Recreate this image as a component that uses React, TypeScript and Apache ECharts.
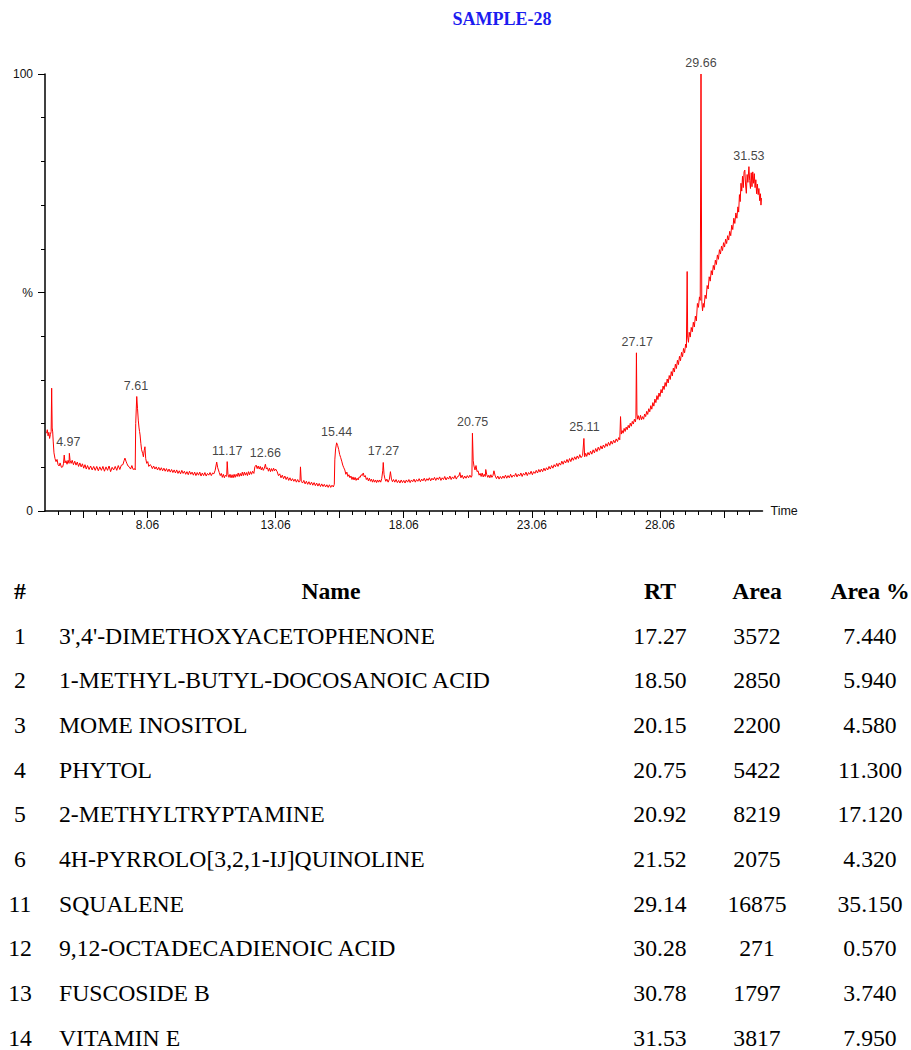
import React, { useEffect, useRef } from 'react';
import * as echarts from 'echarts';

// ---- Chromatogram (time in min, relative intensity in %) ----
const chromatogram: [number, number][] = [
  [4.12, 17.8], [4.15, 18.6], [4.18, 17.2], [4.21, 18.0], [4.24, 16.6], [4.27, 17.5], [4.3, 18.2], [4.32, 28.1],
  [4.34, 19.0], [4.36, 18.1], [4.38, 16.0], [4.41, 13.3], [4.45, 12.0], [4.49, 11.3], [4.53, 11.8], [4.57, 10.6],
  [4.61, 10.3], [4.65, 11.0], [4.7, 10.0], [4.75, 10.1], [4.78, 10.8], [4.81, 12.8], [4.84, 11.0], [4.88, 11.5],
  [4.92, 10.7], [4.96, 11.6], [5.0, 10.9], [5.01, 13.2], [5.04, 11.5], [5.08, 10.9], [5.12, 11.6], [5.17, 10.6],
  [5.22, 11.4], [5.27, 10.5], [5.32, 11.2], [5.37, 10.2], [5.42, 11.0], [5.47, 10.1], [5.52, 10.8], [5.57, 9.8],
  [5.62, 10.6], [5.67, 9.6], [5.72, 10.4], [5.78, 9.5], [5.84, 10.3], [5.9, 9.4], [5.96, 10.2], [6.02, 9.3],
  [6.08, 10.2], [6.14, 9.2], [6.2, 10.1], [6.26, 9.3], [6.32, 10.2], [6.38, 9.1], [6.44, 10.1], [6.5, 9.3],
  [6.56, 10.3], [6.62, 9.0], [6.68, 10.0], [6.74, 9.4], [6.8, 10.2], [6.86, 9.3], [6.92, 10.4], [6.98, 9.5],
  [7.04, 10.5], [7.1, 10.6], [7.15, 11.6], [7.18, 12.1], [7.22, 11.4], [7.26, 10.8], [7.3, 10.3], [7.35, 10.1],
  [7.4, 9.6], [7.45, 10.4], [7.5, 9.5], [7.55, 9.7], [7.58, 9.4], [7.6, 20.0], [7.64, 26.2], [7.67, 23.5],
  [7.7, 20.8], [7.73, 19.0], [7.75, 18.2], [7.77, 17.4], [7.8, 15.5], [7.83, 14.0], [7.87, 13.2], [7.9, 12.4],
  [7.93, 13.8], [7.96, 14.7], [7.99, 12.0], [8.03, 10.9], [8.07, 11.3], [8.11, 10.2], [8.16, 10.6],
  [8.2, 10.4], [8.25, 9.7], [8.3, 10.3], [8.35, 9.6], [8.4, 10.1], [8.45, 9.4], [8.5, 10.0], [8.55, 9.3],
  [8.6, 9.9], [8.65, 9.2], [8.7, 9.8], [8.75, 9.1], [8.8, 9.7], [8.85, 9.0], [8.9, 9.6], [8.95, 8.9],
  [9.0, 9.5], [9.05, 8.8], [9.1, 9.4], [9.15, 8.7], [9.2, 9.4], [9.25, 8.6], [9.3, 9.2], [9.35, 8.5],
  [9.4, 9.3], [9.45, 8.6], [9.5, 9.1], [9.55, 8.4], [9.6, 9.0], [9.65, 8.3], [9.7, 9.1], [9.75, 8.4],
  [9.8, 8.9], [9.85, 8.2], [9.9, 8.9], [9.95, 8.1], [10.0, 8.8], [10.05, 8.2], [10.1, 8.9], [10.15, 8.0],
  [10.2, 8.7], [10.25, 8.1], [10.3, 8.8], [10.35, 8.0], [10.4, 8.6], [10.45, 8.2], [10.5, 8.8], [10.55, 8.1],
  [10.6, 8.7], [10.65, 8.5], [10.7, 9.3], [10.76, 11.2], [10.8, 9.9], [10.86, 8.8], [10.9, 8.1], [10.94, 8.6],
  [10.98, 7.7], [11.02, 8.4], [11.06, 7.6], [11.1, 8.2], [11.15, 7.9], [11.17, 11.3], [11.2, 8.4], [11.24, 7.7],
  [11.28, 8.4], [11.32, 7.6], [11.36, 8.3], [11.4, 7.6], [11.44, 8.4], [11.48, 7.7], [11.52, 8.4], [11.56, 7.9],
  [11.6, 8.7], [11.64, 7.9], [11.68, 8.6], [11.72, 8.0], [11.76, 8.9], [11.8, 8.1], [11.84, 8.9], [11.88, 8.2],
  [11.92, 8.8], [11.96, 8.1], [12.0, 9.0], [12.04, 8.3], [12.08, 9.0], [12.12, 8.4], [12.16, 9.1], [12.21, 8.6],
  [12.25, 10.1], [12.3, 10.5], [12.34, 9.7], [12.38, 10.3], [12.42, 9.6], [12.46, 10.2], [12.5, 9.4], [12.54, 10.0],
  [12.58, 9.3], [12.62, 9.8], [12.66, 10.7], [12.7, 9.6], [12.74, 9.9], [12.78, 9.1], [12.82, 9.8], [12.86, 9.0],
  [12.9, 9.7], [12.94, 9.1], [12.98, 9.8], [13.02, 9.2], [13.06, 9.6], [13.12, 9.0], [13.17, 8.1], [13.22, 8.5],
  [13.27, 7.6], [13.32, 8.2], [13.37, 7.4], [13.42, 8.0], [13.47, 7.2], [13.52, 7.8], [13.57, 7.0], [13.62, 7.6],
  [13.67, 6.9], [13.72, 7.4], [13.77, 6.8], [13.82, 7.3], [13.87, 6.6], [13.92, 7.2], [13.97, 6.6], [14.01, 7.0],
  [14.03, 10.1], [14.06, 6.8], [14.11, 6.4], [14.16, 7.0], [14.21, 6.2], [14.26, 6.8], [14.31, 6.1], [14.36, 6.7],
  [14.41, 6.0], [14.46, 6.6], [14.51, 5.9], [14.56, 6.5], [14.61, 5.8], [14.66, 6.4], [14.71, 5.7], [14.76, 6.3],
  [14.81, 5.6], [14.86, 6.2], [14.91, 5.6], [14.96, 6.1], [15.01, 5.5], [15.06, 6.0], [15.11, 5.4], [15.16, 6.0],
  [15.21, 5.4], [15.26, 5.9], [15.31, 5.5], [15.35, 6.1], [15.37, 11.7], [15.4, 14.2], [15.44, 15.6], [15.48, 15.0],
  [15.52, 14.1], [15.56, 12.9], [15.6, 12.2], [15.64, 11.4], [15.68, 10.5], [15.72, 9.9], [15.76, 9.4], [15.8, 8.4],
  [15.84, 8.9], [15.88, 7.9], [15.92, 8.3], [15.96, 7.6], [16.0, 8.0], [16.04, 7.2], [16.08, 7.8], [16.12, 7.1],
  [16.16, 7.7], [16.2, 7.0], [16.24, 7.5], [16.28, 7.1], [16.32, 7.8], [16.36, 7.7], [16.4, 8.3], [16.44, 8.1],
  [16.48, 8.7], [16.52, 7.8], [16.56, 8.1], [16.6, 7.2], [16.64, 7.6], [16.68, 6.9], [16.72, 7.5], [16.76, 6.8],
  [16.8, 7.3], [16.84, 6.6], [16.88, 7.2], [16.92, 6.6], [16.96, 7.1], [17.0, 6.5], [17.04, 7.1], [17.08, 6.6],
  [17.12, 7.1], [17.16, 6.6], [17.2, 7.4], [17.24, 9.2], [17.26, 11.1], [17.29, 8.4], [17.32, 7.5], [17.36, 6.8],
  [17.4, 7.3], [17.45, 6.6], [17.5, 7.3], [17.54, 9.0], [17.58, 7.3], [17.62, 6.7], [17.66, 7.2], [17.71, 6.6],
  [17.76, 7.2], [17.81, 6.5], [17.86, 7.0], [17.91, 6.4], [17.96, 7.1], [18.01, 6.5], [18.06, 7.0], [18.11, 6.4],
  [18.16, 7.1], [18.21, 6.6], [18.26, 7.2], [18.31, 6.5], [18.36, 7.1], [18.41, 6.7], [18.46, 7.3], [18.51, 6.6],
  [18.56, 7.2], [18.61, 6.8], [18.66, 7.4], [18.71, 6.7], [18.76, 7.3], [18.81, 6.9], [18.86, 7.5], [18.91, 6.8],
  [18.96, 7.4], [19.01, 7.0], [19.06, 7.6], [19.11, 6.9], [19.16, 7.5], [19.21, 7.1], [19.26, 7.7], [19.31, 7.0],
  [19.36, 7.6], [19.41, 7.2], [19.46, 7.8], [19.51, 7.0], [19.56, 7.6], [19.61, 7.2], [19.66, 7.9], [19.71, 7.1],
  [19.76, 7.7], [19.81, 7.3], [19.86, 8.0], [19.91, 7.2], [19.96, 7.8], [20.01, 7.4], [20.06, 8.1], [20.11, 7.3],
  [20.16, 7.9], [20.21, 8.0], [20.25, 8.8], [20.29, 7.6], [20.34, 8.2], [20.39, 7.4], [20.44, 8.0], [20.49, 7.5],
  [20.54, 8.1], [20.59, 7.6], [20.64, 8.2], [20.69, 7.7], [20.72, 8.0], [20.74, 17.8], [20.77, 11.5], [20.8, 10.3],
  [20.84, 9.4], [20.88, 10.4], [20.92, 9.0], [20.96, 9.2], [21.0, 8.2], [21.04, 8.6], [21.08, 7.9], [21.12, 8.7],
  [21.16, 7.8], [21.2, 8.4], [21.24, 7.9], [21.26, 9.5], [21.3, 8.3], [21.34, 7.7], [21.38, 8.2], [21.42, 7.6],
  [21.46, 8.3], [21.5, 7.7], [21.54, 8.1], [21.58, 9.2], [21.63, 8.0], [21.68, 7.4], [21.73, 8.0], [21.78, 7.3],
  [21.83, 7.9], [21.88, 7.4], [21.93, 8.0], [21.98, 7.5],
  [22.03, 8.2], [22.08, 7.5], [22.13, 8.1], [22.18, 7.6], [22.23, 8.4], [22.28, 7.7], [22.33, 8.2], [22.38, 7.9],
  [22.43, 8.6], [22.48, 7.8], [22.53, 8.4], [22.58, 8.0], [22.63, 8.7], [22.68, 7.9], [22.73, 8.6], [22.78, 8.2],
  [22.83, 8.9], [22.88, 8.1], [22.93, 8.8], [22.98, 8.4], [23.03, 9.1], [23.08, 8.3], [23.13, 9.0], [23.18, 8.6],
  [23.23, 9.3], [23.28, 8.7], [23.33, 9.5], [23.38, 8.9], [23.43, 9.6], [23.48, 9.0], [23.53, 9.8], [23.58, 9.2],
  [23.63, 9.9], [23.68, 9.4], [23.73, 10.2], [23.78, 9.6], [23.83, 10.4], [23.88, 9.8], [23.93, 10.6], [23.98, 10.1],
  [24.03, 10.9], [24.08, 10.2], [24.13, 11.0], [24.18, 10.5], [24.23, 11.4], [24.28, 10.7], [24.33, 11.5], [24.38, 11.0],
  [24.43, 11.8], [24.48, 11.1], [24.53, 12.0], [24.58, 11.3], [24.63, 12.2], [24.68, 11.6], [24.73, 12.4], [24.78, 11.8],
  [24.83, 12.6], [24.88, 12.0], [24.93, 12.9], [24.98, 12.2], [25.04, 12.7], [25.09, 16.6], [25.12, 12.4], [25.16, 13.2],
  [25.2, 12.5], [25.25, 13.4], [25.3, 12.8], [25.35, 13.7], [25.4, 13.0], [25.45, 14.0], [25.5, 13.3], [25.55, 14.3],
  [25.6, 13.6], [25.65, 14.6], [25.7, 13.9], [25.75, 14.9], [25.8, 14.2], [25.85, 15.1], [25.9, 14.5], [25.95, 15.4],
  [26.0, 14.8], [26.05, 15.7], [26.1, 15.0], [26.15, 16.0], [26.2, 15.3], [26.25, 16.2], [26.3, 15.6], [26.35, 16.5],
  [26.4, 15.9], [26.45, 16.8], [26.49, 16.3], [26.52, 21.6], [26.55, 17.6], [26.58, 18.4], [26.62, 17.8], [26.66, 18.9],
  [26.7, 18.2], [26.74, 19.2], [26.78, 18.6], [26.82, 19.6], [26.86, 19.0], [26.9, 20.1], [26.94, 19.4], [26.98, 20.5],
  [27.02, 19.9], [27.06, 21.0], [27.1, 20.4], [27.12, 21.2], [27.14, 36.2], [27.16, 22.2], [27.19, 21.0], [27.22, 21.8],
  [27.26, 20.8], [27.3, 21.9], [27.34, 20.9], [27.38, 21.6], [27.42, 21.0], [27.46, 22.2], [27.5, 21.6], [27.54, 22.8],
  [27.58, 22.1], [27.62, 23.4], [27.66, 22.7], [27.7, 24.1], [27.74, 23.3], [27.78, 24.8], [27.82, 24.0], [27.86, 25.6],
  [27.9, 24.8], [27.94, 26.4], [27.98, 25.5], [28.02, 27.0], [28.06, 26.2], [28.1, 27.8], [28.14, 27.0], [28.18, 28.6],
  [28.22, 27.8], [28.26, 29.4], [28.3, 28.5], [28.34, 30.2], [28.38, 29.3], [28.42, 31.0], [28.46, 30.1], [28.5, 31.9],
  [28.54, 30.9], [28.58, 32.7], [28.62, 31.8], [28.66, 33.6], [28.7, 32.6], [28.74, 34.5], [28.78, 33.5], [28.82, 35.4],
  [28.86, 34.4], [28.9, 36.3], [28.94, 35.3], [28.98, 37.2], [29.02, 36.2], [29.06, 38.2], [29.09, 37.4], [29.12, 54.8],
  [29.14, 39.8], [29.17, 38.6], [29.2, 40.9], [29.24, 39.8], [29.28, 42.0], [29.32, 41.0], [29.36, 43.2], [29.4, 42.1],
  [29.44, 44.6], [29.48, 43.5], [29.52, 47.5], [29.56, 46.6], [29.6, 49.0], [29.63, 48.2], [29.66, 100.0], [29.69, 48.0],
  [29.72, 45.8], [29.75, 47.5], [29.78, 46.6], [29.82, 49.4], [29.86, 48.6], [29.9, 51.6], [29.94, 50.8], [29.98, 53.6],
  [30.02, 52.6], [30.06, 55.0], [30.1, 54.0], [30.14, 56.2], [30.18, 55.2], [30.22, 57.4], [30.26, 56.4], [30.3, 58.6],
  [30.34, 57.6], [30.38, 59.8], [30.42, 58.8], [30.46, 60.6], [30.5, 59.6], [30.54, 61.4], [30.58, 60.4], [30.62, 62.2],
  [30.66, 61.2], [30.7, 63.0], [30.74, 62.0], [30.78, 64.0], [30.82, 63.0], [30.86, 65.4], [30.9, 64.4], [30.94, 67.0],
  [30.98, 65.8], [31.02, 68.2], [31.06, 67.0], [31.1, 69.6], [31.13, 68.4], [31.16, 72.4], [31.19, 70.8], [31.22, 75.0],
  [31.25, 73.2], [31.28, 76.6], [31.31, 74.0], [31.34, 77.6], [31.37, 78.0], [31.4, 74.6], [31.43, 72.7], [31.46, 77.0],
  [31.49, 75.2], [31.53, 78.8], [31.56, 75.6], [31.59, 73.8], [31.62, 77.4], [31.65, 74.2], [31.68, 77.6], [31.71, 75.0],
  [31.74, 77.2], [31.77, 74.0], [31.8, 75.8], [31.83, 72.6], [31.86, 74.8], [31.89, 72.4], [31.92, 73.8], [31.95, 71.0],
  [31.98, 72.6], [32.0, 70.0], [32.02, 71.6],
];

// ---- Labelled peaks ----
const peakRT = [4.97, 7.61, 11.17, 12.66, 15.44, 17.27, 20.75, 25.11, 27.17, 29.66, 31.53];
const peakHeight = [13.2, 26.2, 11.3, 10.7, 15.6, 11.1, 17.8, 16.6, 36.2, 100, 78.8];

// ---- Axis ticks / labels ----
const timeMin = 4.06;
const timeMax = 32.06;
const xLabelValues = [8.06, 13.06, 18.06, 23.06, 28.06];
const xMajorTicks = [5.56, 8.06, 10.56, 13.06, 15.56, 18.06, 20.56, 23.06, 25.56, 28.06, 30.56];
const xMinorTicks = Array.from({ length: 55 }, (_, i) => Number((4.56 + 0.5 * i).toFixed(2)));
const yLabels: Record<number, string> = { 0: '0', 50: '%', 100: '100' };

// ---- Table ----
const tableHeaders = ['#', 'Name', 'RT', 'Area', 'Area %'];
const rowNumbers = ['1', '2', '3', '4', '5', '6', '11', '12', '13', '14'];
const compoundNames = [
  "3',4'-DIMETHOXYACETOPHENONE",
  '1-METHYL-BUTYL-DOCOSANOIC ACID',
  'MOME INOSITOL',
  'PHYTOL',
  '2-METHYLTRYPTAMINE',
  '4H-PYRROLO[3,2,1-IJ]QUINOLINE',
  'SQUALENE',
  '9,12-OCTADECADIENOIC ACID',
  'FUSCOSIDE B',
  'VITAMIN E',
];
const retentionTimes = ['17.27', '18.50', '20.15', '20.75', '20.92', '21.52', '29.14', '30.28', '30.78', '31.53'];
const areas = ['3572', '2850', '2200', '5422', '8219', '2075', '16875', '271', '1797', '3817'];
const areaPercents = ['7.440', '5.940', '4.580', '11.300', '17.120', '4.320', '35.150', '0.570', '3.740', '7.950'];

const SANS = '"Liberation Sans", Arial, Helvetica, sans-serif';
const SERIF = '"Liberation Serif", "Times New Roman", Times, serif';

export default function App() {
  const ref = useRef<HTMLDivElement>(null);

  useEffect(() => {
    if (!ref.current) return;
    const chart = echarts.init(ref.current, null, { renderer: 'svg' });

    const colX = [20, 59, 660, 757, 870];
    const colAlign = ['center', 'left', 'center', 'center', 'center'];
    const headerX = [20, 331, 660, 757, 870];
    const headerY = 591;
    const rowY0 = 635.5;
    const rowStep = 44.7;
    const tableFont = 23.7;

    const graphics: any[] = [
      {
        type: 'text',
        x: 502,
        y: 19,
        style: {
          text: 'SAMPLE-28',
          fontFamily: SERIF,
          fontWeight: 'bold',
          fontSize: 18,
          fill: '#1c1cf0',
          align: 'center',
          verticalAlign: 'middle',
        },
      },
    ];
    tableHeaders.forEach((h, i) => {
      graphics.push({
        type: 'text',
        x: headerX[i],
        y: headerY,
        style: {
          text: h,
          fontFamily: SERIF,
          fontWeight: 'bold',
          fontSize: tableFont,
          fill: '#000',
          align: 'center',
          verticalAlign: 'middle',
        },
      });
    });
    const cols = [rowNumbers, compoundNames, retentionTimes, areas, areaPercents];
    rowNumbers.forEach((_, r) => {
      cols.forEach((col, c) => {
        graphics.push({
          type: 'text',
          x: colX[c],
          y: rowY0 + r * rowStep,
          style: {
            text: col[r],
            fontFamily: SERIF,
            fontSize: tableFont,
            fill: '#000',
            align: colAlign[c],
            verticalAlign: 'middle',
          },
        });
      });
    });

    const axisText = { fontFamily: SANS, fontSize: 12, color: '#111' };

    chart.setOption({
      animation: false,
      backgroundColor: '#ffffff',
      grid: { left: 45, right: 148.5, top: 74, bottom: 539, containLabel: false },
      xAxis: [
        {
          type: 'value',
          min: timeMin,
          max: timeMax,
          position: 'bottom',
          name: 'Time',
          nameLocation: 'end',
          nameGap: 8,
          nameTextStyle: { fontFamily: SANS, fontSize: 12.5, color: '#111' },
          axisLine: { show: true, lineStyle: { color: '#000', width: 1.5 } },
          axisTick: { show: true, length: 7, lineStyle: { color: '#000', width: 1 }, customValues: xMajorTicks },
          axisLabel: {
            ...axisText,
            margin: 8,
            customValues: xLabelValues,
            formatter: (v: number) => v.toFixed(2),
          },
          splitLine: { show: false },
        },
        {
          type: 'value',
          min: timeMin,
          max: timeMax,
          position: 'bottom',
          axisLine: { show: false },
          axisTick: { show: true, length: 4, lineStyle: { color: '#000', width: 1 }, customValues: xMinorTicks },
          axisLabel: { show: false },
          splitLine: { show: false },
        },
      ],
      yAxis: {
        type: 'value',
        min: 0,
        max: 100,
        interval: 50,
        axisLine: { show: true, lineStyle: { color: '#000', width: 1.5 } },
        axisTick: { show: true, length: 7, lineStyle: { color: '#000', width: 1 } },
        minorTick: { show: true, splitNumber: 5, length: 4, lineStyle: { color: '#000', width: 1 } },
        axisLabel: { ...axisText, margin: 12, formatter: (v: number) => yLabels[v] ?? '' },
        splitLine: { show: false },
        minorSplitLine: { show: false },
      },
      series: [
        {
          type: 'line',
          data: chromatogram,
          showSymbol: false,
          symbol: 'none',
          lineStyle: { color: '#ff0000', width: 1 },
          silent: true,
          z: 2,
        },
        {
          type: 'scatter',
          data: peakRT.map((rt, i) => ({
            value: [rt, peakHeight[i]],
            label: rt === 4.97 ? { offset: [8, 0] } : undefined,
          })),
          symbol: 'circle',
          symbolSize: 1,
          itemStyle: { color: 'rgba(0,0,0,0)' },
          label: {
            show: true,
            position: 'top',
            distance: 4,
            fontFamily: SANS,
            fontSize: 12.5,
            color: '#111',
            formatter: (p: any) => p.value[0].toFixed(2),
          },
          labelLayout: { hideOverlap: false },
          silent: true,
          z: 3,
        },
      ],
      graphic: graphics,
    });

    return () => chart.dispose();
  }, []);

  return (
    <div
      ref={ref}
      style={{ position: 'absolute', left: 0, top: 0, width: 911, height: 1050, background: '#fff' }}
    />
  );
}
